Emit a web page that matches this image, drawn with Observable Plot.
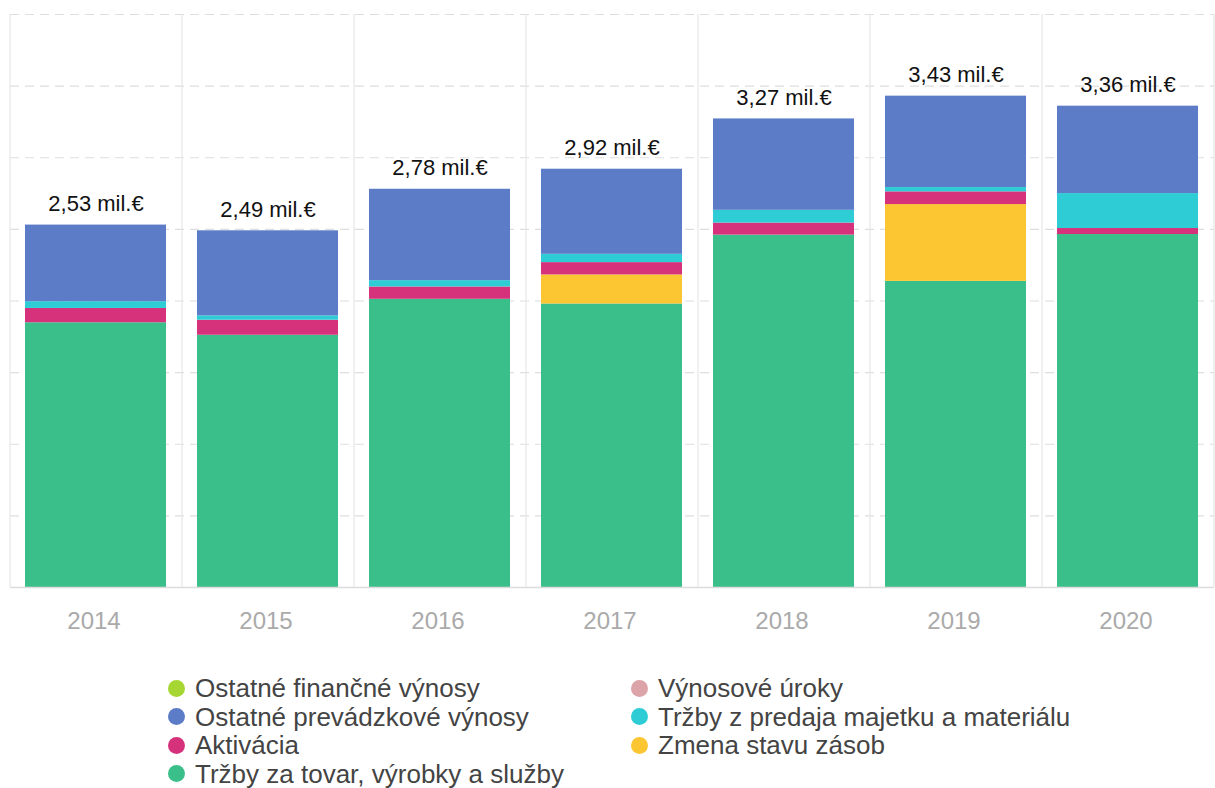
<!DOCTYPE html>
<html>
<head>
<meta charset="utf-8">
<script src="https://cdn.jsdelivr.net/npm/d3@7"></script>
<script src="https://cdn.jsdelivr.net/npm/@observablehq/plot@0.6"></script>
<style>
  html, body { margin: 0; padding: 0; background: #fff; }
  #wrap { position: relative; width: 1215px; height: 788px; font-family: "Liberation Sans", Arial, sans-serif; }
  .legend { position: absolute; top: 674px; font-size: 26px; line-height: 28.5px; color: #444; }
  .legend div { display: flex; align-items: center; white-space: nowrap; }
  .legend span.dot { display: inline-block; width: 17px; height: 17px; border-radius: 50%; margin-right: 10px; }
</style>
</head>
<body>
<div id="wrap"></div>
<script>
// ---- Data (mil. €) ----
const years = ["2014", "2015", "2016", "2017", "2018", "2019", "2020"];
const totals = [2.53, 2.49, 2.78, 2.92, 3.27, 3.43, 3.36];

const trzbyTovar        = [1.848, 1.761, 2.012, 1.979, 2.460, 2.137, 2.464];
const zmenaZasob        = [0,     0,     0,     0.203, 0,     0.536, 0    ];
const aktivacia         = [0.100, 0.105, 0.086, 0.086, 0.084, 0.089, 0.042];
const trzbyMajetok      = [0.047, 0.030, 0.044, 0.058, 0.089, 0.030, 0.244];
const ostatnePrevadzk   = [0.535, 0.594, 0.638, 0.594, 0.638, 0.638, 0.610];
const ostatneFinancne   = [0, 0, 0, 0, 0, 0, 0];
const vynosoveUroky     = [0, 0, 0, 0, 0, 0, 0];

// series in stacking order (bottom -> top)
const seriesNames = [
  "Tržby za tovar, výrobky a služby",
  "Zmena stavu zásob",
  "Aktivácia",
  "Tržby z predaja majetku a materiálu",
  "Ostatné prevádzkové výnosy",
  "Ostatné finančné výnosy",
  "Výnosové úroky"
];
const seriesValues = [trzbyTovar, zmenaZasob, aktivacia, trzbyMajetok, ostatnePrevadzk, ostatneFinancne, vynosoveUroky];
const seriesColors = ["#3bbf8a", "#fcc632", "#d6327c", "#2ecdd6", "#5c7cc8", "#a6d632", "#dca3a8"];

// legend order (column-major, two columns)
const legendCol1 = ["Ostatné finančné výnosy", "Ostatné prevádzkové výnosy", "Aktivácia", "Tržby za tovar, výrobky a služby"];
const legendCol2 = ["Výnosové úroky", "Tržby z predaja majetku a materiálu", "Zmena stavu zásob"];

// ---- Build table ----
const table = [];
seriesNames.forEach((s, si) => {
  years.forEach((y, yi) => {
    table.push({ year: y, series: s, value: seriesValues[si][yi] });
  });
});
const nonZero = table.filter(d => d.value > 0);

const labels = years.map((y, i) => ({ year: y, total: totals[i], text: d3.format(".2f")(totals[i]).replace(".", ",") + " mil.€" }));

// ---- Layout ----
const W = 1215, H = 650, ML = 10, MR = 1, MT = 14, MB = 63;
const step = (W - ML - MR) / years.length;

const chart = Plot.plot({
  width: W,
  height: H,
  marginLeft: ML,
  marginRight: MR,
  marginTop: MT,
  marginBottom: MB,
  style: { fontFamily: "'Liberation Sans', Arial, sans-serif", background: "#fff" },
  x: { domain: years, paddingInner: 0.18, paddingOuter: 0.09, axis: null },
  y: { domain: [0, 4], axis: null },
  color: { domain: seriesNames, range: seriesColors },
  marks: [
    // horizontal dashed gridlines
    Plot.ruleY(d3.range(0.5, 4.01, 0.5), { stroke: "#dedede", strokeWidth: 1.2, strokeDasharray: "9,6" }),
    // vertical band separators
    Plot.ruleX(years, { x: d => d, dx: -step / 2, stroke: "#e6e6e6", strokeWidth: 1.2 }),
    Plot.ruleX(years.slice(-1), { x: d => d, dx: step / 2, stroke: "#e6e6e6", strokeWidth: 1.2 }),
    // stacked bars
    Plot.barY(nonZero, { x: "year", y: "value", fill: "series", order: seriesNames }),
    // baseline
    Plot.ruleY([0], { stroke: "#dcdcdc", strokeWidth: 1.5 }),
    // total labels
    Plot.text(labels, { x: "year", y: "total", text: "text", lineAnchor: "bottom", dy: -14, fontSize: 22, fill: "#111" }),
    // x axis
    Plot.axisX({ tickSize: 0, tickPadding: 24, fontSize: 24, color: "#aaa", label: null, dx: -2 })
  ]
});

const wrap = document.getElementById("wrap");
wrap.appendChild(chart);

// ---- Legend ----
function legendColumn(names, left) {
  const col = document.createElement("div");
  col.className = "legend";
  col.style.left = left + "px";
  names.forEach(n => {
    const row = document.createElement("div");
    const dot = document.createElement("span");
    dot.className = "dot";
    dot.style.background = seriesColors[seriesNames.indexOf(n)];
    row.appendChild(dot);
    row.appendChild(document.createTextNode(n));
    col.appendChild(row);
  });
  wrap.appendChild(col);
}
legendColumn(legendCol1, 168);
legendColumn(legendCol2, 631);
</script>
</body>
</html>
